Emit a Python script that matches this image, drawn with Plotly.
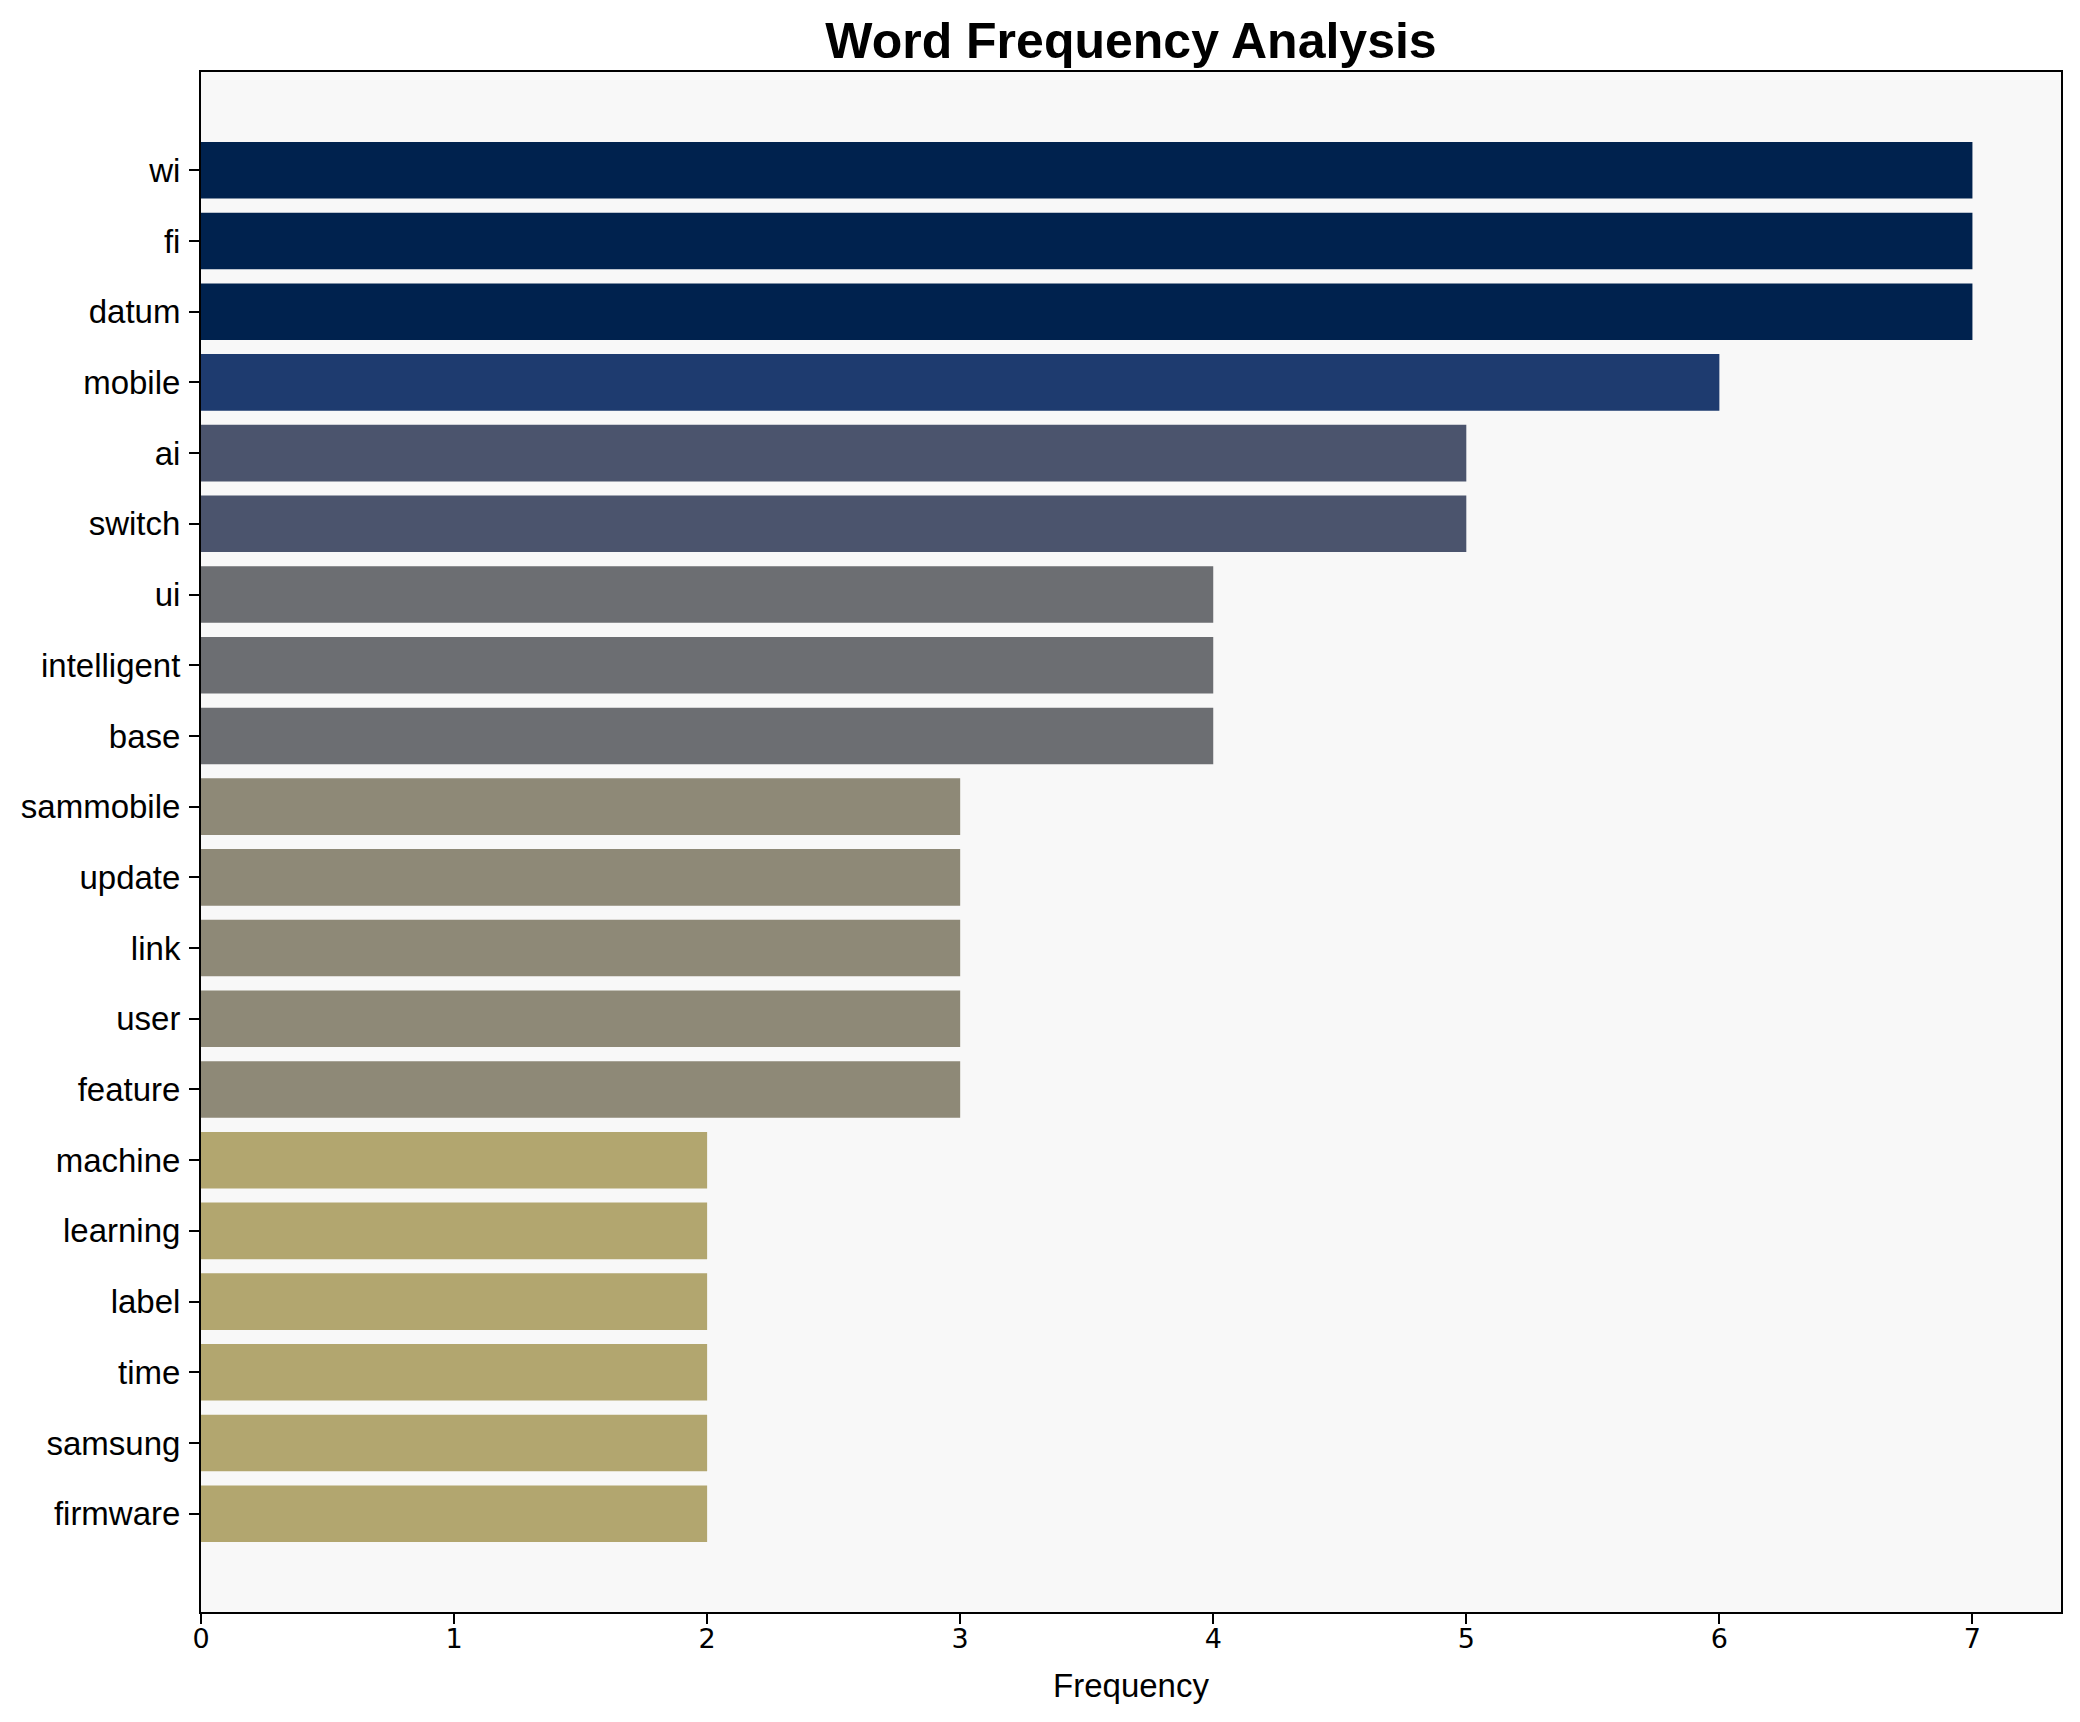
import plotly.graph_objects as go

words = ["wi", "fi", "datum", "mobile", "ai", "switch", "ui", "intelligent", "base",
         "sammobile", "update", "link", "user", "feature", "machine", "learning",
         "label", "time", "samsung", "firmware"]
counts = [7, 7, 7, 6, 5, 5, 4, 4, 4, 3, 3, 3, 3, 3, 2, 2, 2, 2, 2, 2]
x_ticks = [0, 1, 2, 3, 4, 5, 6, 7]

W, H = 2080, 1722
L, R, T, B = 201, 19, 72, 110

fig = go.Figure(go.Bar(
    x=counts,
    y=words,
    orientation="h",
    width=0.8,
    marker=dict(color=counts, colorscale="Cividis_r", cmin=0, cmax=max(counts),
                line=dict(width=0)),
    hoverinfo="x+y",
))

n = len(words)
pad = 0.05 * (n - 1 + 0.8)
fig.update_layout(
    width=W, height=H,
    margin=dict(l=L, r=R, t=T, b=B, pad=0),
    paper_bgcolor="white",
    plot_bgcolor="#f8f8f8",
    showlegend=False,
    bargap=0.2,
    title=dict(text="<b>Word Frequency Analysis</b>", x=(L + (W - R - L) / 2) / W, xanchor="center",
               xref="container", yref="container", y=1 - 40 / H, yanchor="middle",
               font=dict(family="Liberation Sans", size=50, color="black")),
    xaxis=dict(
        range=[0, max(counts) * 1.05],
        tickvals=x_ticks,
        ticktext=[str(v) for v in x_ticks],
        showgrid=False, zeroline=False,
        showline=True, linecolor="black", linewidth=2, mirror=True,
        ticks="outside", ticklen=10, tickwidth=2, tickcolor="black",
        ticklabelstandoff=-8,
        tickfont=dict(family="DejaVu Sans", size=27, color="black"),
        title=dict(text="Frequency", standoff=20,
                   font=dict(family="Liberation Sans", size=33, color="black")),
    ),
    yaxis=dict(
        type="category",
        categoryorder="array", categoryarray=words,
        range=[n - 1 + 0.4 + pad, -0.4 - pad],
        showgrid=False, zeroline=False,
        showline=True, linecolor="black", linewidth=2, mirror=True,
        ticks="outside", ticklen=10, tickwidth=2, tickcolor="black",
        ticklabelstandoff=2,
        tickfont=dict(family="Liberation Sans", size=33, color="black"),
    ),
)

fig.write_html("out.html", config={"displayModeBar": False},
               post_script="document.body.style.margin='0';")
